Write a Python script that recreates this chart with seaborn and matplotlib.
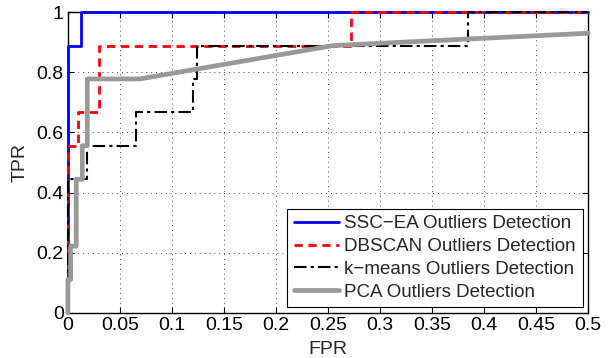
import numpy as np
import pandas as pd
import matplotlib
matplotlib.use("Agg")
import matplotlib.pyplot as plt
import seaborn as sns

# ROC curves (FPR, TPR)
ssc_fpr = [0, 0, 0.0125, 0.0125, 0.5]
ssc_tpr = [0, 0.889, 0.889, 1.0, 1.0]

dbscan_fpr = [0, 0, 0.010, 0.010, 0.030, 0.030, 0.272, 0.272, 0.5]
dbscan_tpr = [0, 0.556, 0.556, 0.667, 0.667, 0.889, 0.889, 1.0, 1.0]

kmeans_fpr = [0, 0, 0.0186, 0.0186, 0.065, 0.065, 0.120, 0.120, 0.124, 0.124, 0.385, 0.385, 0.5]
kmeans_tpr = [0, 0.444, 0.444, 0.556, 0.556, 0.667, 0.667, 0.778, 0.778, 0.889, 0.889, 1.0, 1.0]

pca_fpr = [0, 0, 0.0026, 0.0026, 0.008, 0.008, 0.0138, 0.0138, 0.0186, 0.0186, 0.069, 0.255, 0.5]
pca_tpr = [0, 0.111, 0.111, 0.222, 0.222, 0.444, 0.444, 0.556, 0.556, 0.778, 0.778, 0.889, 0.93]

labels = ["SSC\u2212EA Outliers Detection", "DBSCAN Outliers Detection",
          "k\u2212means Outliers Detection", "PCA Outliers Detection"]

sns.set_style("ticks")
plt.rcParams['font.family'] = ['Liberation Sans', 'DejaVu Sans']

fig = plt.figure(figsize=(6.12, 3.58), dpi=100)
ax = fig.add_axes([0.111, 0.126, 0.850, 0.840])

series = [
    (ssc_fpr, ssc_tpr, dict(color="#0000ff", lw=2.0, ls="-")),
    (dbscan_fpr, dbscan_tpr, dict(color="#ff0000", lw=2.0, ls=(0, (3, 2)))),
    (kmeans_fpr, kmeans_tpr, dict(color="black", lw=1.5, ls=(0, (6, 2, 1.5, 2)))),
    (pca_fpr, pca_tpr, dict(color="#999999", lw=3.4, ls="-")),
]
for (fx, ty, style), lab in zip(series, labels):
    df = pd.DataFrame({"FPR": fx, "TPR": ty})
    sns.lineplot(data=df, x="FPR", y="TPR", sort=False, estimator=None,
                 ax=ax, label=lab, clip_on=False, **style)

ax.set_xlim(0, 0.5)
ax.set_ylim(0, 1)
xt = np.round(np.arange(0, 0.501, 0.05), 2)
yt = np.round(np.arange(0, 1.01, 0.2), 1)
ax.set_xticks(xt)
ax.set_xticklabels(["0"] + [f"{v:g}" for v in xt[1:]])
ax.set_yticks(yt)
ax.set_yticklabels(["0"] + [f"{v:g}" for v in yt[1:]])
ax.tick_params(direction="in", top=True, right=True, length=4, width=0.8,
               labelsize=14, pad=3, colors="black")
ax.grid(True, ls=(0, (1, 4)), color="#444444", lw=0.7)
for s in ax.spines.values():
    s.set_visible(True)
    s.set_color("black")
    s.set_linewidth(1.0)
    s.set_zorder(1)

ax.set_xlabel("FPR", fontsize=14)
ax.xaxis.set_label_coords(0.5, -0.095)
ax.set_ylabel("TPR", fontsize=14, labelpad=6)

leg = ax.legend(loc="lower right", fontsize=13.5, frameon=True, fancybox=False,
                framealpha=1, edgecolor="black", handlelength=2.4,
                borderaxespad=0.3, borderpad=0.35, labelspacing=0.3,
                handletextpad=0.3)
leg.get_frame().set_linewidth(0.8)
leg.set_zorder(5)

fig.savefig("out.png", dpi=100)
